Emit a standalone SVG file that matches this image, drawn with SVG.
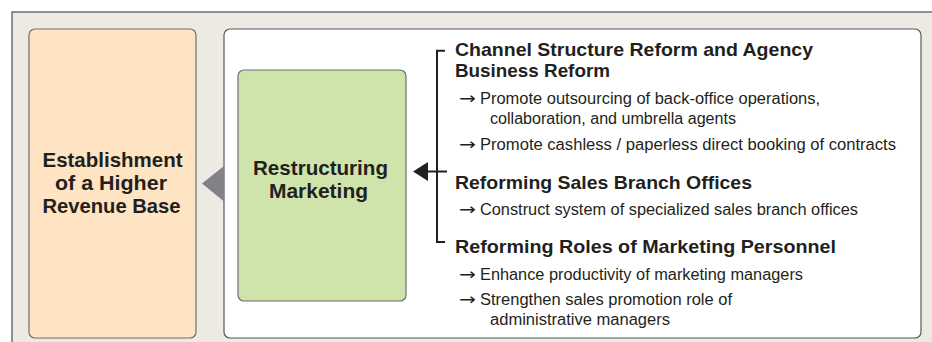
<svg xmlns="http://www.w3.org/2000/svg" width="932" height="342" viewBox="0 0 932 342">
<style>
.t{font-family:"Liberation Sans",Arial,sans-serif;fill:#231f20}
.h{font-size:18.5px;font-weight:bold}
.b{font-size:16px}
.ar{font-family:"DejaVu Sans",sans-serif;font-size:16px;fill:#231f20}
.big{font-size:20.5px;font-weight:bold;text-anchor:middle}
.box{stroke:#6d6e71;stroke-width:1.2}
</style>
<rect x="0" y="0" width="932" height="342" fill="#ffffff"/>
<rect id="frame" x="12" y="12" width="940" height="350" fill="#edeae4" stroke="#6d6e71" stroke-width="1.5"/>
<g id="node-revenue">
<rect class="box" x="29" y="29" width="167" height="309" rx="6" fill="#fee4c3"/>
<text class="t big" x="112.5" y="166.5" textLength="140" lengthAdjust="spacingAndGlyphs">Establishment</text>
<text class="t big" x="111" y="190" textLength="112" lengthAdjust="spacingAndGlyphs">of a Higher</text>
<text class="t big" x="111.5" y="213" textLength="138" lengthAdjust="spacingAndGlyphs">Revenue Base</text>
</g>
<g id="node-panel">
<rect x="224" y="29" width="697" height="309" rx="6" fill="#ffffff" stroke="#58595b" stroke-width="1.2"/>
</g>
<g id="node-marketing">
<rect class="box" x="238" y="70" width="168" height="231" rx="6" fill="#cfe4ab"/>
<text class="t big" x="320.5" y="175" textLength="135" lengthAdjust="spacingAndGlyphs">Restructuring</text>
<text class="t big" x="318.5" y="197.5" textLength="99" lengthAdjust="spacingAndGlyphs">Marketing</text>
</g>
<g id="connectors">
<polygon points="202,183.5 224,166 224,201.5" fill="#808285"/>
<path d="M445,50.7 H437 V242 H445" fill="none" stroke="#231f20" stroke-width="2"/>
<line x1="426" y1="171.5" x2="447" y2="171.5" stroke="#231f20" stroke-width="2"/>
<polygon points="413,171.5 428,162 428,181" fill="#231f20"/>
</g>
<g id="node-channel">
<text class="t h" x="455" y="56" textLength="358" lengthAdjust="spacingAndGlyphs">Channel Structure Reform and Agency</text>
<text class="t h" x="455" y="77" textLength="155" lengthAdjust="spacingAndGlyphs">Business Reform</text>
<text class="ar" x="459" y="104" textLength="17" lengthAdjust="spacingAndGlyphs">→</text>
<text class="t b" x="480" y="104" textLength="340" lengthAdjust="spacingAndGlyphs">Promote outsourcing of back-office operations,</text>
<text class="t b" x="490" y="124" textLength="246" lengthAdjust="spacingAndGlyphs">collaboration, and umbrella agents</text>
<text class="ar" x="459" y="150" textLength="17" lengthAdjust="spacingAndGlyphs">→</text>
<text class="t b" x="480" y="150" textLength="416" lengthAdjust="spacingAndGlyphs">Promote cashless / paperless direct booking of contracts</text>
</g>
<g id="node-branch">
<text class="t h" x="455" y="189" textLength="297" lengthAdjust="spacingAndGlyphs">Reforming Sales Branch Offices</text>
<text class="ar" x="459" y="215" textLength="17" lengthAdjust="spacingAndGlyphs">→</text>
<text class="t b" x="480" y="215" textLength="378" lengthAdjust="spacingAndGlyphs">Construct system of specialized sales branch offices</text>
</g>
<g id="node-personnel">
<text class="t h" x="455" y="253" textLength="381" lengthAdjust="spacingAndGlyphs">Reforming Roles of Marketing Personnel</text>
<text class="ar" x="459" y="280" textLength="17" lengthAdjust="spacingAndGlyphs">→</text>
<text class="t b" x="480" y="280" textLength="323" lengthAdjust="spacingAndGlyphs">Enhance productivity of marketing managers</text>
<text class="ar" x="459" y="305" textLength="17" lengthAdjust="spacingAndGlyphs">→</text>
<text class="t b" x="480" y="305" textLength="252" lengthAdjust="spacingAndGlyphs">Strengthen sales promotion role of</text>
<text class="t b" x="490" y="325" textLength="180" lengthAdjust="spacingAndGlyphs">administrative managers</text>
</g>
</svg>
